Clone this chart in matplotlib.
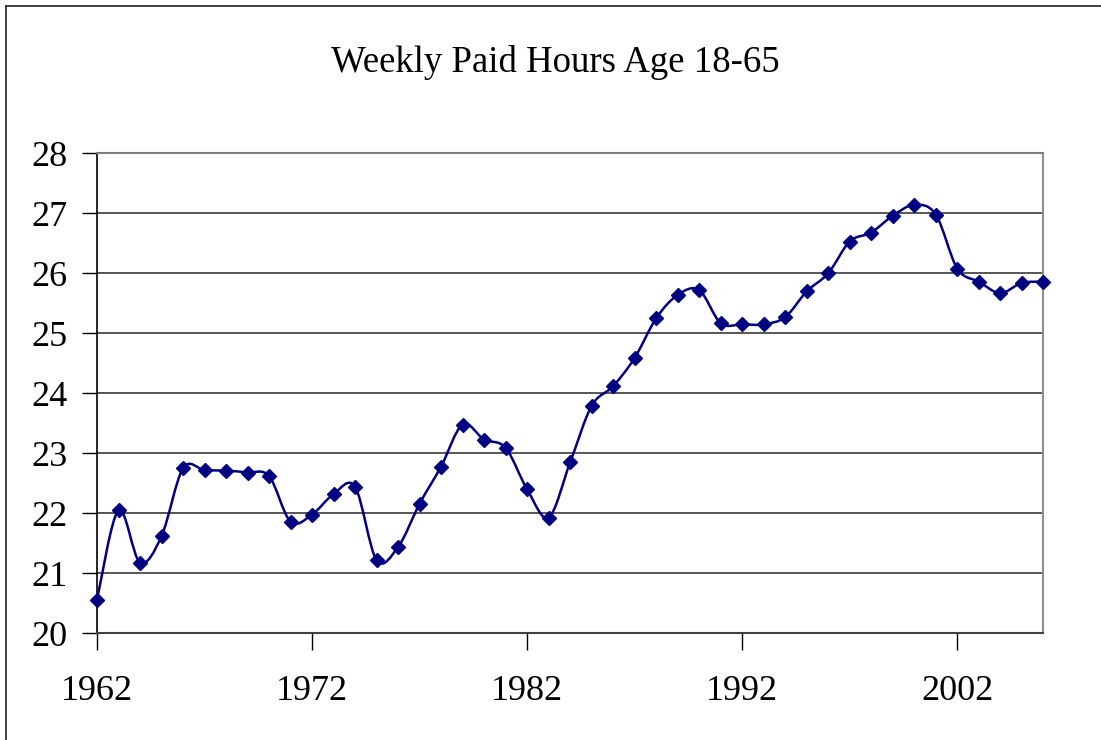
import numpy as np
import matplotlib
matplotlib.use("Agg")
import matplotlib.pyplot as plt
from matplotlib.path import Path
from matplotlib.patches import PathPatch
from matplotlib.lines import Line2D

# Data
years = list(range(1962, 2007))
hours = [20.56, 22.05, 21.18, 21.62, 22.75, 22.72, 22.71, 22.68, 22.62, 21.86,
         21.98, 22.32, 22.44, 21.22, 21.44, 22.16, 22.78, 23.48, 23.23, 23.09,
         22.40, 21.93, 22.85, 23.79, 24.12, 24.59, 25.25, 25.64, 25.72, 25.17,
         25.15, 25.15, 25.27, 25.70, 26.00, 26.53, 26.68, 26.96, 27.14, 26.98,
         26.08, 25.86, 25.67, 25.84, 25.86]
xtick_years = [1962, 1972, 1982, 1992, 2002]
ytick_vals = list(range(20, 29))

plt.rcParams['font.family'] = ['Liberation Serif', 'DejaVu Serif']

fig = plt.figure(figsize=(11.01, 7.40), dpi=100)
W, H = 1101, 740
ax = fig.add_axes([97 / W, 1 - 633.3 / H, (1043.3 - 97) / W, (633.3 - 153.3) / H])

# smoothed line like Excel (Catmull-Rom style bezier through the points)
pts = np.column_stack([years, hours]).astype(float)
n = len(pts)
verts = [pts[0]]
codes = [Path.MOVETO]
for i in range(n - 1):
    p0 = pts[max(i - 1, 0)]
    p1 = pts[i]
    p2 = pts[i + 1]
    p3 = pts[min(i + 2, n - 1)]
    c1 = p1 + (p2 - p0) / 6.0
    c2 = p2 - (p3 - p1) / 6.0
    verts += [c1, c2, p2]
    codes += [Path.CURVE4] * 3
ax.add_patch(PathPatch(Path(verts, codes), fill=False, edgecolor='#000080',
                       lw=1.8, zorder=3))
ax.plot(years, hours, linestyle='none', marker='D', markersize=7.5,
        color='#000080', zorder=4, clip_on=False)

ax.set_xlim(1962, 2006)
ax.set_ylim(20, 28)
ax.set_xticks(xtick_years)
ax.set_yticks(ytick_vals)
ax.tick_params(axis='x', labelsize=26, length=12, width=1.0, pad=18, direction='out')
ax.tick_params(axis='y', labelsize=26, length=11, width=1.0, pad=10, direction='out')

ax.grid(axis='y', color='#4a4a4a', lw=1.3)
ax.set_axisbelow(True)
ax.spines['left'].set_color('black')
ax.spines['left'].set_linewidth(1.2)
ax.spines['bottom'].set_color('#404040')
ax.spines['bottom'].set_linewidth(1.5)
ax.spines['top'].set_color('#808080')
ax.spines['top'].set_linewidth(1.5)
ax.spines['right'].set_color('#909090')
ax.spines['right'].set_linewidth(1.5)

fig.text(555 / W, 1 - 72 / H, 'Weekly Paid Hours Age 18-65', ha='center',
         va='baseline', fontsize=26.5)

# outer chart frame (left and top edges visible)
fig.add_artist(Line2D([5.5 / W, 5.5 / W], [0, 1 - 6 / H], color='#333333', lw=1.3,
                      transform=fig.transFigure))
fig.add_artist(Line2D([5.5 / W, 1], [1 - 6 / H, 1 - 6 / H], color='#333333', lw=1.3,
                      transform=fig.transFigure))

fig.savefig('out.png', dpi=100)
